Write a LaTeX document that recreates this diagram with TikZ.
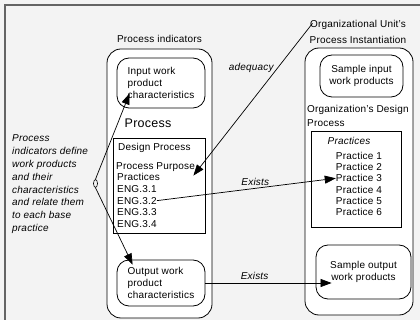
\documentclass[tikz,border=0pt]{standalone}
\usepackage{fontspec}
\setmainfont{Liberation Sans}[LetterSpace=2]
\usepackage{tikz}
\usetikzlibrary{shapes.geometric, arrows.meta, positioning, calc}
\definecolor{panelgray}{RGB}{243,243,243}
\definecolor{framegray}{RGB}{100,100,100}

\begin{document}
\begin{tikzpicture}[
    x=1pt, y=-1pt,
    txt/.style={font=\fontsize{10}{12}\selectfont, inner sep=0pt},
    itxt/.style={font=\fontsize{10}{12.9}\selectfont\itshape, inner sep=0pt},
    group/.style={rectangle, draw, fill=white, rounded corners=14pt, line width=0.8pt},
    wp/.style={rectangle, draw, fill=white, rounded corners=12pt, line width=0.8pt, font=\fontsize{10}{12}\selectfont},
    list/.style={rectangle, draw, fill=white, line width=0.8pt},
    arrow/.style={-{Triangle[length=11pt,width=8pt]}, line width=0.7pt},
    flowlabel/.style={font=\fontsize{10}{12}\selectfont\itshape, inner sep=1pt}
]

% canvas and frame
\useasboundingbox (0,0) rectangle (420,320);
\clip (0,0) rectangle (420,320);
\fill[panelgray] (0,0) rectangle (420,320);
\draw[framegray, line width=1.4pt] (5,330) -- (5,5) -- (430,5);

% Process indicators
\node[group, minimum width=105pt, minimum height=269pt] (procgrp) at (159.5,183.5) {};
\node[txt, above=6pt of procgrp.north] (procind) {Process indicators};
\node[wp, align=left, minimum width=88pt, minimum height=50pt] (inwp) at (161,83) {Input work\\product\\characteristics};
\node[font=\fontsize{12.5}{14}\selectfont, inner sep=0pt] (proclbl) at (148,123) {Process};

% Design process box
\node[list, minimum width=92pt, minimum height=95pt] (design) at (159,185.5) {};
\node[txt, anchor=base west] (dtitle) at (118,150.6) {Design Process};
\node[txt, anchor=base west] (purpose) at (116,169.5) {Process Purpose};
\node[txt, anchor=base west] (dprac) at (117,180.5) {Practices};
\node[txt, anchor=base west] (eng1) at (117,192.5) {ENG.3.1};
\node[txt, below=4.1pt of eng1.south west, anchor=north west] (eng2) {ENG.3.2};
\node[txt, below=4.1pt of eng2.south west, anchor=north west] (eng3) {ENG.3.3};
\node[txt, below=4.1pt of eng3.south west, anchor=north west] (eng4) {ENG.3.4};

\node[wp, align=left, minimum width=88pt, minimum height=46pt] (outwp) at (161,283) {Output work\\product\\characteristics};

% Note on the left
\node[itxt, align=left, anchor=north west] (note) at (12,134.4) {Process\\indicators define\\work products\\and their\\characteristics\\and relate them\\to each base\\practice};
\node[ellipse, draw, inner sep=0pt, minimum width=4pt, minimum height=8pt, line width=0.6pt] (knot) at (95.5,183.5) {};

% Organizational unit
\node[group, minimum width=108pt, minimum height=267pt] (orggrp) at (359,181.5) {};
\node[txt, align=center, font=\fontsize{10}{15.5}\selectfont] (orgunit) at (358,32) {Organizational Unit's\\Process Instantiation};
\node[wp, align=center, minimum width=83pt, minimum height=42pt] (sampin) at (361.5,76) {Sample input\\work products};
\node[txt, align=left, font=\fontsize{10}{14}\selectfont, anchor=north west] (orgdesign) at (307,105.5) {Organization's Design\\Process};

\node[list, minimum width=90pt, minimum height=96pt] (pracbox) at (356,179) {};
\node[itxt] (ptitle) at (349,141) {Practices};
\node[txt] (prac1) at (359,156) {Practice 1};
\node[txt, below=3.4pt of prac1] (prac2) {Practice 2};
\node[txt, below=3.4pt of prac2] (prac3) {Practice 3};
\node[txt, below=3.4pt of prac3] (prac4) {Practice 4};
\node[txt, below=3.4pt of prac4] (prac5) {Practice 5};
\node[txt, below=3.4pt of prac5] (prac6) {Practice 6};

\node[wp, align=center, minimum width=95pt, minimum height=54pt] (sampout) at (363.5,272) {Sample output\\work products};

% Arrows
\draw[arrow] (knot.north) -- ($(inwp.south west)+(13,-15)$);
\draw[arrow] (knot.south) -- ($(outwp.north west)+(16,5)$);
\draw[arrow] ($(orgunit.north west)+(3,3)$) -- ($(design.north east)+(-12,38)$) node[pos=0.29, left=3pt, flowlabel] {adequacy};
\draw[arrow] (eng2.east) -- (prac3.west) node[pos=0.55, above=1pt, flowlabel] {Exists};
\draw[arrow] (outwp.east) -- ($(outwp.east -| sampout.west)+(16,0)$) node[pos=0.39, above=2pt, flowlabel] {Exists};

\end{tikzpicture}
\end{document}
